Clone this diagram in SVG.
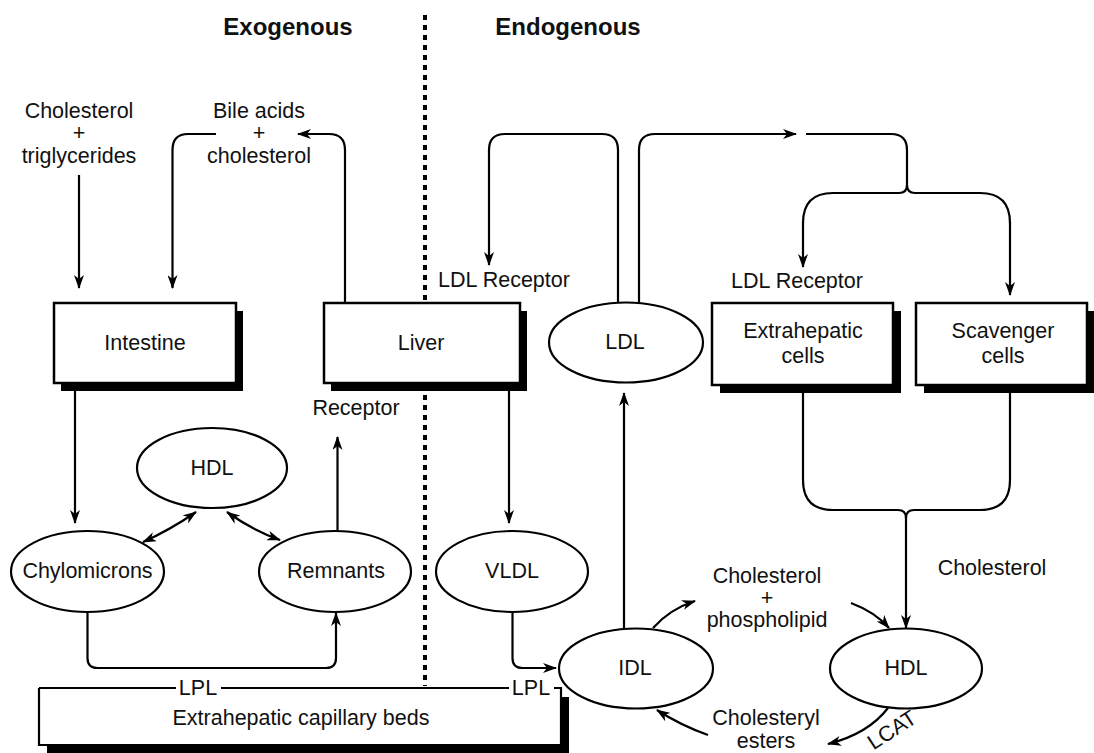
<svg xmlns="http://www.w3.org/2000/svg" width="1094" height="753" viewBox="0 0 1094 753">
  <defs>
    <marker id="ah" viewBox="0 0 14 10" refX="13" refY="5" markerWidth="14" markerHeight="10" markerUnits="userSpaceOnUse" orient="auto-start-reverse">
      <path d="M0,0 L14,5 L0,10 L4,5 z" fill="#000"/>
    </marker>
    <style>
      text { font-family: "Liberation Sans", Arial, Helvetica, sans-serif; font-size: 21.5px; fill: #111; text-anchor: middle; }
      .title { font-weight: bold; font-size: 24px; }
      .box { fill: #fff; stroke: #000; stroke-width: 2.5; }
      .shadow { fill: #000; }
      .ell { fill: #fff; stroke: #000; stroke-width: 2.2; }
      .ln { fill: none; stroke: #000; stroke-width: 2.2; }
      .arr { fill: none; stroke: #000; stroke-width: 2.2; marker-end: url(#ah); }
      .dbl { fill: none; stroke: #000; stroke-width: 2.2; marker-start: url(#ah); marker-end: url(#ah); }
      .divider { stroke: #000; stroke-width: 4; stroke-dasharray: 5 5; }
    </style>
  </defs>

  <rect width="1094" height="753" fill="#fff"/>

  <!-- section headings and divider -->
  <text class="title" x="288" y="35">Exogenous</text>
  <text class="title" x="568" y="35">Endogenous</text>
  <line class="divider" x1="425" y1="15" x2="425" y2="686"/>

  <!-- free labels -->
  <g id="dietary-input">
    <text x="79" y="118">Cholesterol</text>
    <text x="79" y="140">+</text>
    <text x="79" y="163">triglycerides</text>
  </g>
  <g id="bile-output">
    <text x="259" y="118">Bile acids</text>
    <text x="259" y="140">+</text>
    <text x="259" y="163">cholesterol</text>
  </g>
  <text x="356" y="415">Receptor</text>
  <text x="504" y="287">LDL Receptor</text>
  <text x="797" y="288">LDL Receptor</text>
  <text x="992" y="575">Cholesterol</text>
  <g id="chol-phospholipid">
    <text x="767" y="583">Cholesterol</text>
    <text x="767" y="605">+</text>
    <text x="767" y="627">phospholipid</text>
  </g>
  <g id="cholesteryl-esters" font-size="20">
    <text x="766" y="725" font-size="20">Cholesteryl</text>
    <text x="766" y="748" font-size="20">esters</text>
  </g>

  <!-- connectors -->
  <g id="connectors">
    <path class="arr" d="M79,175 V288"/>
    <path class="arr" d="M216,134 H188 Q172.5,134 172.5,150 V288"/>
    <path class="arr" d="M345,303 V150 Q345,134 329,134 H298"/>
    <path class="arr" d="M75,391 V523"/>
    <path class="arr" d="M509,391 V523"/>
    <path class="arr" d="M337.5,531 V437"/>
    <path class="dbl" d="M143,542 Q170,530 196,512"/>
    <path class="dbl" d="M227,512 Q252,530 280,540"/>
    <path class="arr" d="M87.5,612 V658 Q87.5,668 97.5,668 H326 Q336,668 336,658 V613"/>
    <path class="arr" d="M512.5,612 V658 Q512.5,668 522.5,668 H556"/>
    <path class="arr" d="M624,629 V393"/>
    <path class="arr" d="M618,303 V150 Q618,134 602,134 H505 Q489,134 489,150 V265"/>
    <path class="arr" d="M639,303 V150 Q639,134 655,134 H796"/>
    <path class="ln" d="M806,134 H891 Q907,134 907,150 V185 Q907,193 899,193 H833 Q803,193 803,223"/>
    <path class="arr" d="M803,222 V267"/>
    <path class="ln" d="M907,185 Q907,193 915,193 H980 Q1010,193 1010,223"/>
    <path class="arr" d="M1010,222 V295"/>
    <path class="ln" d="M803,393 V480 Q803,510 833,510 H898 Q906,510 906,518"/>
    <path class="ln" d="M1010,393 V480 Q1010,510 980,510 H914 Q906,510 906,518"/>
    <path class="arr" d="M906,517 V628"/>
    <path class="arr" d="M653,628 Q670,609 695,601"/>
    <path class="arr" d="M851,603 Q875,612 889,628"/>
    <path class="arr" d="M708,735 Q680,725 657,710"/>
    <path class="arr" d="M888,708 Q868,734 828,744"/>
  </g>
  <text x="896" y="736" font-size="17" transform="rotate(-33 896 736)">LCAT</text>

  <!-- boxes -->
  <g id="intestine">
    <rect class="shadow" x="61" y="311" width="182" height="80"/>
    <rect class="box" x="54" y="303" width="182" height="80"/>
    <text x="145" y="350">Intestine</text>
  </g>
  <g id="liver">
    <rect class="shadow" x="331" y="311" width="196" height="80"/>
    <rect class="box" x="324" y="303" width="196" height="80"/>
    <text x="421" y="350">Liver</text>
  </g>
  <g id="extrahepatic-cells">
    <rect class="shadow" x="720" y="311" width="181" height="82"/>
    <rect class="box" x="712" y="303" width="181" height="82"/>
    <text x="803" y="338">Extrahepatic</text>
    <text x="803" y="363">cells</text>
  </g>
  <g id="scavenger-cells">
    <rect class="shadow" x="924" y="311" width="171" height="82"/>
    <rect class="box" x="916" y="303" width="171" height="82"/>
    <text x="1003" y="338">Scavenger</text>
    <text x="1003" y="363">cells</text>
  </g>
  <g id="capillary-beds">
    <rect class="shadow" x="47" y="697" width="522" height="60"/>
    <rect x="39" y="688" width="522" height="57" fill="#fff"/>
    <path class="ln" d="M39,688 V745 H561 V688 H554"/>
    <path class="ln" d="M39,688 H176 M221,688 H509"/>
    <text x="198" y="695">LPL</text>
    <text x="531" y="695">LPL</text>
    <text x="301" y="725">Extrahepatic capillary beds</text>
  </g>

  <!-- lipoprotein particles -->
  <g id="hdl-exo">
    <ellipse class="ell" cx="212" cy="468" rx="75" ry="40"/>
    <text x="212" y="475">HDL</text>
  </g>
  <g id="chylomicrons">
    <ellipse class="ell" cx="87.5" cy="571.5" rx="76.5" ry="40.5"/>
    <text x="87.5" y="578">Chylomicrons</text>
  </g>
  <g id="remnants">
    <ellipse class="ell" cx="335" cy="571.5" rx="76" ry="40.5"/>
    <text x="336" y="578">Remnants</text>
  </g>
  <g id="vldl">
    <ellipse class="ell" cx="512" cy="571.5" rx="76" ry="40.5"/>
    <text x="512" y="578">VLDL</text>
  </g>
  <g id="ldl">
    <ellipse class="ell" cx="626" cy="342.5" rx="77" ry="40"/>
    <text x="625" y="349">LDL</text>
  </g>
  <g id="idl">
    <ellipse class="ell" cx="636" cy="668.5" rx="77" ry="40"/>
    <text x="635" y="675">IDL</text>
  </g>
  <g id="hdl-endo">
    <ellipse class="ell" cx="906" cy="668.5" rx="76" ry="40"/>
    <text x="906" y="675">HDL</text>
  </g>
</svg>
